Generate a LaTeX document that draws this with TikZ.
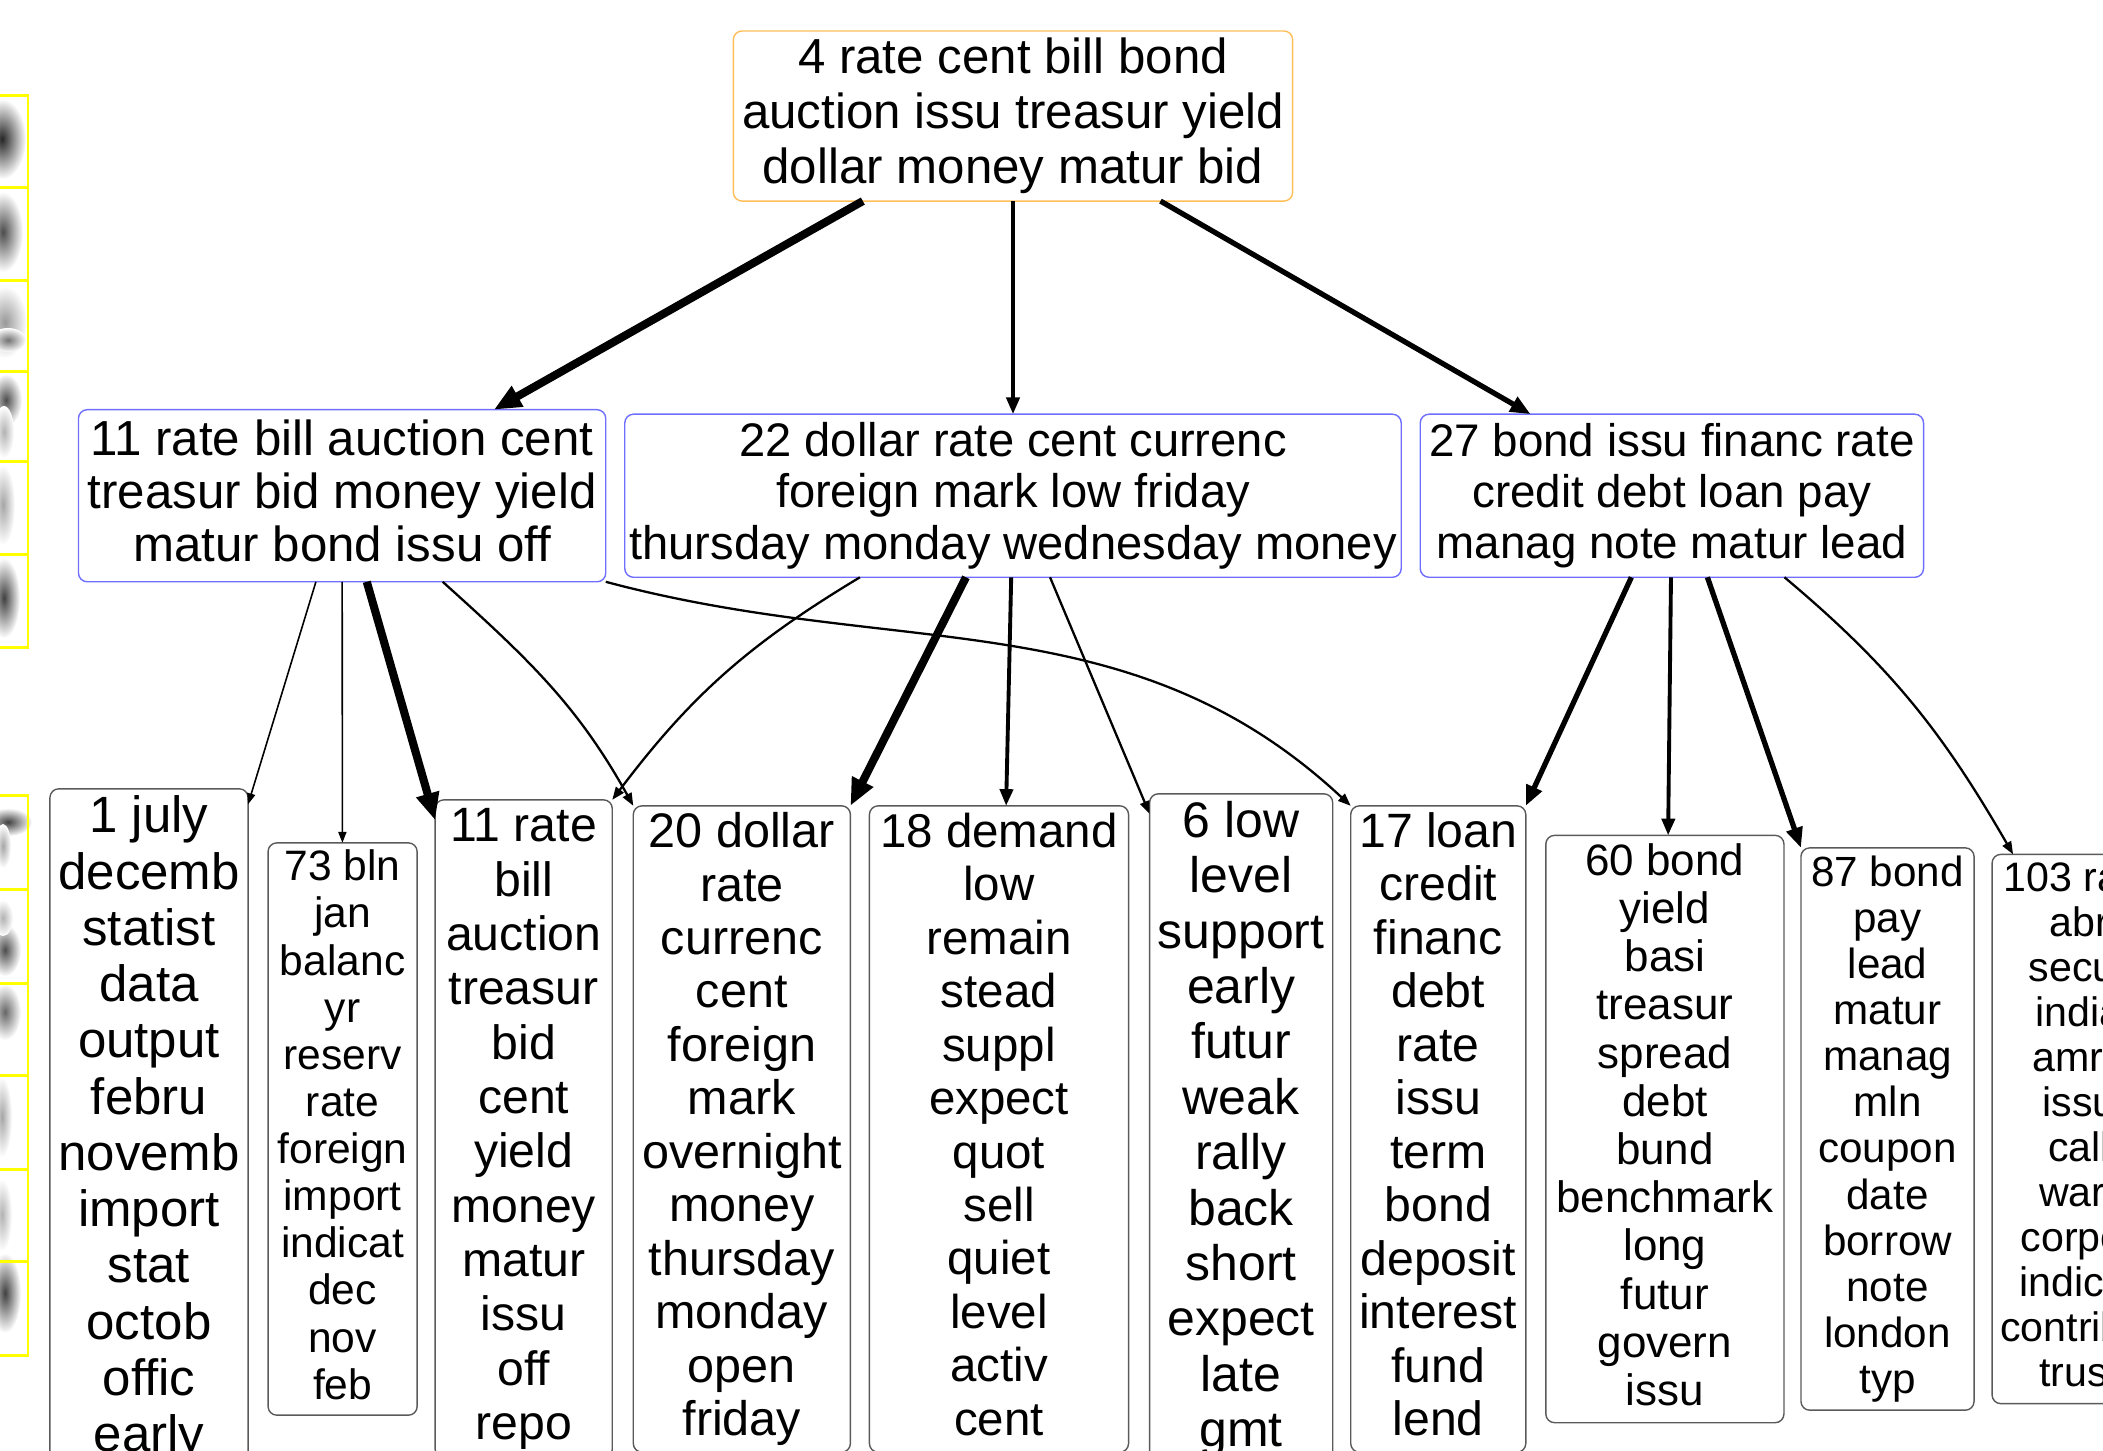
\documentclass[tikz,border=0pt]{standalone}
\usepackage{fontspec}
\setmainfont{Liberation Sans}
\usepackage{tikz}
\usetikzlibrary{arrows.meta, positioning}

\definecolor{rootorange}{RGB}{255,190,90}
\definecolor{midblue}{RGB}{110,110,255}
\definecolor{leafgray}{RGB}{90,90,90}
\definecolor{digityellow}{RGB}{255,255,0}

\newcommand{\fsz}[2]{\fontsize{#1pt}{#2pt}\selectfont}
\newcommand{\dsc}{\vphantom{y}}

\tikzset{
  topic/.style={draw, rounded corners=2.5pt, align=center, inner sep=1pt, outer sep=0pt, line width=0.4pt},
  toptopic/.style={topic, draw=rootorange},
  midtopic/.style={topic, draw=midblue},
  leaftopic/.style={topic, draw=leafgray},
  wt1/.style={line width=0.45pt},
  wt2/.style={line width=0.65pt},
  wt3/.style={line width=1.1pt},
  wt4/.style={line width=1.5pt},
  wt5/.style={line width=2.3pt},
  digitframe/.style={draw=digityellow, line width=0.85pt}
}

\begin{document}
\begin{tikzpicture}[x=0.01cm, y=-0.01cm, >={Triangle[length=2pt 2.5, width=1.33pt 2.16]}]
    \useasboundingbox (0,0) rectangle (2103,1450);
    \clip (0,0) rectangle (2103,1450);

    % digit thumbnails, cut off by the left edge
    \foreach \dx/\dy/\rx/\ry/\dk in {2/139/24/40/85, 3/232/20/40/70, 5/322/22/36/40, 8/340/18/12/55,
        6/400/16/26/70, 4/432/10/26/30, 3/505/12/40/35, 4/598/16/40/75,
        8/822/24/14/75, 3/846/8/22/35, 5/950/16/26/70, 3/918/10/18/30,
        5/1012/16/28/60, 2/1117/10/40/35, 2/1215/10/36/30, 5/1293/16/40/75}
      \shade [inner color=black!\dk, outer color=white] (\dx,\dy) ellipse [x radius=\rx*0.01cm, y radius=\ry*0.01cm];
    \foreach \ya/\yb in {95/187, 187/280, 280/371, 371/461, 461/554, 554/647,
        795/889, 889/983, 983/1075, 1075/1169, 1169/1261, 1261/1355}
      \draw [digitframe] (-70,\ya) rectangle (28,\yb);

    \node [toptopic, minimum width=5.59cm, minimum height=1.70cm, font=\fsz{14}{15.6}] (t4) at (1013,116)
      {4 rate cent bill bond\\auction issu treasur yield\\dollar money matur bid};
    \node [midtopic, below=2.13cm of t4, minimum width=7.76cm, minimum height=1.63cm, font=\fsz{13.4}{14.6}] (m22)
      {22 dollar rate cent currenc\\foreign mark low friday\\thursday monday wednesday money};
    \node [midtopic, left=0.19cm of m22, minimum width=5.27cm, minimum height=1.72cm, font=\fsz{14}{15.2}] (m11)
      {11 rate bill auction cent\\treasur bid money yield\\matur bond issu off\dsc};
    \node [midtopic, right=0.19cm of m22, minimum width=5.03cm, minimum height=1.63cm, font=\fsz{13}{14.6}] (m27)
      {27 bond issu financ rate\\credit debt loan pay\\manag note matur lead};

    \node [leaftopic, minimum width=1.98cm, minimum height=6.80cm, font=\fsz{14.5}{16}] (b1) at (149,1129)
      {1 july\\decemb\\statist\\data\\output\\febru\\novemb\\import\\stat\\octob\\offic\\early};
    \node [leaftopic, right=0.2cm of b1, minimum width=1.49cm, minimum height=5.72cm, font=\fsz{12.1}{13.4}] (b73)
      {73 bln\\jan\\balanc\\yr\\reserv\\rate\\foreign\\import\\indicat\\dec\\nov\\feb\dsc};
    \node [leaftopic, right=0.18cm of b73, minimum width=1.77cm, minimum height=6.58cm, font=\fsz{13.7}{15.45}] (b11)
      {11 rate\\bill\\auction\\treasur\\bid\\cent\\yield\\money\\matur\\issu\\off\\repo};
    \node [leaftopic, right=0.21cm of b11, minimum width=2.17cm, minimum height=6.46cm, font=\fsz{13.8}{15.2}] (b20)
      {20 dollar\\rate\\currenc\\cent\\foreign\\mark\\overnight\\money\\thursday\\monday\\open\\friday};
    \node [leaftopic, right=0.19cm of b20, minimum width=2.59cm, minimum height=6.46cm, font=\fsz{13.5}{15.2}] (b18)
      {18 demand\\low\\remain\\stead\\suppl\\expect\\quot\\sell\\quiet\\level\\activ\\cent\dsc};
    \node [leaftopic, right=0.21cm of b18, minimum width=1.83cm, minimum height=6.70cm, font=\fsz{14.2}{15.75}] (b6)
      {6 low\\level\\support\\early\\futur\\weak\\rally\\back\\short\\expect\\late\\gmt};
    \node [leaftopic, right=0.18cm of b6, minimum width=1.75cm, minimum height=6.46cm, font=\fsz{13.7}{15.2}] (b17)
      {17 loan\\credit\\financ\\debt\\rate\\issu\\term\\bond\\deposit\\interest\\fund\\lend\dsc};
    \node [leaftopic, right=0.2cm of b17, minimum width=2.38cm, minimum height=5.87cm, font=\fsz{12.5}{13.7}] (b60)
      {60 bond\\yield\\basi\\treasur\\spread\\debt\\bund\\benchmark\\long\\futur\\govern\\issu\dsc};
    \node [leaftopic, right=0.17cm of b60, minimum width=1.73cm, minimum height=5.62cm, font=\fsz{12}{13.1}] (b87)
      {87 bond\\pay\\lead\\matur\\manag\\mln\\coupon\\date\\borrow\\note\\london\\typ};
    \node [leaftopic, right=0.18cm of b87, minimum width=1.74cm, minimum height=5.49cm, font=\fsz{11.7}{12.8}] (b103)
      {103 rate\\abr\\secur\\india\\amro\\issu\\call\\warr\\corpor\\indicat\\contribut\\trust\dsc};

    % first level
    \draw [->, wt5] (t4) edge (m11);
    \draw [->, wt3] (t4) edge (m22);
    \draw [->, wt4] (t4) edge (m27);

    % below topic 11
    \draw [->, wt1] (m11) edge (b1);
    \draw [->, wt1] (m11) edge (b73);
    \draw [->, wt5] (m11) edge (b11);
    \draw [->, wt2] ([xshift=1.005cm]m11.south) to [out=-42, in=119] (b20.north west);
    \draw [->, wt2] (m11.south east) to [out=-15, in=137] (b17.north west);

    % below topic 22
    \draw [->, wt2] ([xshift=-1.53cm]m22.south) to [out=-149, in=53] (b11.north east);
    \draw [->, wt5] ([xshift=-0.47cm]m22.south) -- (b20.north east);
    \draw [->, wt3] (m22) edge (b18);
    \draw [->, wt2] ([xshift=0.37cm]m22.south) -- ([yshift=-0.2cm]b6.north west);

    % below topic 27
    \draw [->, wt4] ([xshift=-0.405cm]m27.south) -- (b17.north east);
    \draw [->, wt3] (m27) edge (b60);
    \draw [->, wt4] ([xshift=0.355cm]m27.south) -- (b87.north west);
    \draw [->, wt2] ([xshift=1.125cm]m27.south) to [out=-40, in=120] ([xshift=0.21cm]b103.north west);
\end{tikzpicture}
\end{document}
